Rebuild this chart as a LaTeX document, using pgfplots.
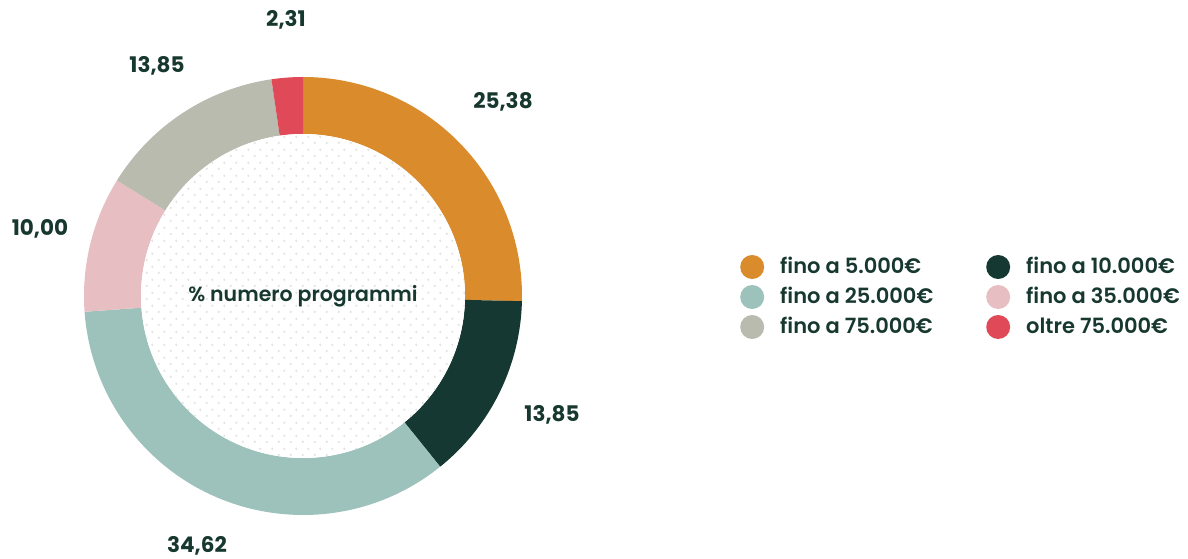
\documentclass[border=0pt]{standalone}
\usepackage{pgfplots}
\pgfplotsset{compat=1.18}
\usepackage{pgfplotstable}
\usepackage{fontspec}
\setmainfont{Poppins}
\newfontfamily\medfont{Poppins SemiBold}
\usetikzlibrary{patterns.meta}
\definecolor{cOrange}{HTML}{DA8B2B}
\definecolor{cDark}{HTML}{163832}
\definecolor{cTeal}{HTML}{9DC2BB}
\definecolor{cPink}{HTML}{E7BEC1}
\definecolor{cGray}{HTML}{B9BBAE}
\definecolor{cRed}{HTML}{E04958}
\definecolor{cText}{HTML}{17382F}
\definecolor{dotgray}{HTML}{E3E3E3}
\tikzdeclarepattern{name=mydots, type=uncolored,
  bounding box={(0pt,0pt) and (12pt,12.6pt)},
  tile size={(12pt,12.6pt)},
  code={\fill (3pt,3.15pt) circle[radius=1.3pt]; \fill (9pt,9.45pt) circle[radius=1.3pt];}}
\pgfplotstableread{
value color
25.38 cOrange
13.85 cDark
34.62 cTeal
10.00 cPink
13.85 cGray
2.31 cRed
}\donutdata
\newcommand\leg[1]{\smash{\makebox[190pt][l]{#1}}}
\newcommand\legb[1]{\smash{#1}}
\begin{document}
\begin{tikzpicture}
\begin{axis}[scale only axis, width=1188pt, height=556pt,
  xmin=0, xmax=1188, ymin=0, ymax=556, hide axis, clip=false,
  legend columns=2,
  legend image code/.code={\fill[#1] (12pt,7pt) circle[radius=12pt];},
  legend style={draw=none, fill=none, at={(737/1188,259/556)}, anchor=west,
    column sep=16pt, row sep=6pt, font=\medfont\fontsize{21}{21}\selectfont\color{cText},
    nodes={inner sep=0pt}},
  legend cell align=left]
\path (axis cs:0,0) (axis cs:1188,556);
\pgfplotsextra{
  \gdef\cum{90}
  \foreach \i in {0,...,5} {
    \pgfplotstablegetelem{\i}{value}\of\donutdata \let\v\pgfplotsretval
    \pgfplotstablegetelem{\i}{color}\of\donutdata \let\c\pgfplotsretval
    \pgfmathsetmacro\a{\cum}
    \pgfmathsetmacro\b{\cum - 3.6*\v}
    \fill[\c] (axis cs:{303+219*cos(\a)},{260+219*sin(\a)}) arc[start angle=\a, end angle=\b, radius=219pt]
      -- (axis cs:{303+162*cos(\b)},{260+162*sin(\b)}) arc[start angle=\b, end angle=\a, radius=162pt] -- cycle;
    \xdef\cum{\b}
  }
  \fill[white] (axis cs:303,260) circle[radius=162pt];
  \fill[pattern=mydots, pattern color=dotgray] (axis cs:303,260) circle[radius=162pt];
}
\addlegendimage{fill=cOrange, draw=none}\addlegendentry{\leg{fino a 5.000€}}
\addlegendimage{fill=cDark, draw=none}\addlegendentry{\legb{fino a 10.000€}}
\addlegendimage{fill=cTeal, draw=none}\addlegendentry{\leg{fino a 25.000€}}
\addlegendimage{fill=cPink, draw=none}\addlegendentry{\legb{fino a 35.000€}}
\addlegendimage{fill=cGray, draw=none}\addlegendentry{\leg{fino a 75.000€}}
\addlegendimage{fill=cRed, draw=none}\addlegendentry{\legb{oltre 75.000€}}
\begin{scope}[every node/.style={text=cText, font=\fontsize{21.5}{23}\selectfont\bfseries}]
\node at (axis cs:503,454) {25,38};
\node at (axis cs:552,141) {13,85};
\node at (axis cs:197,10) {34,62};
\node at (axis cs:40,327) {10,00};
\node at (axis cs:157,490) {13,85};
\node at (axis cs:286,536) {2,31};
\end{scope}
\node[text=cText, font=\medfont\fontsize{20.5}{23}\selectfont] at (axis cs:303,260) {\% numero programmi};
\end{axis}
\end{tikzpicture}
\end{document}
